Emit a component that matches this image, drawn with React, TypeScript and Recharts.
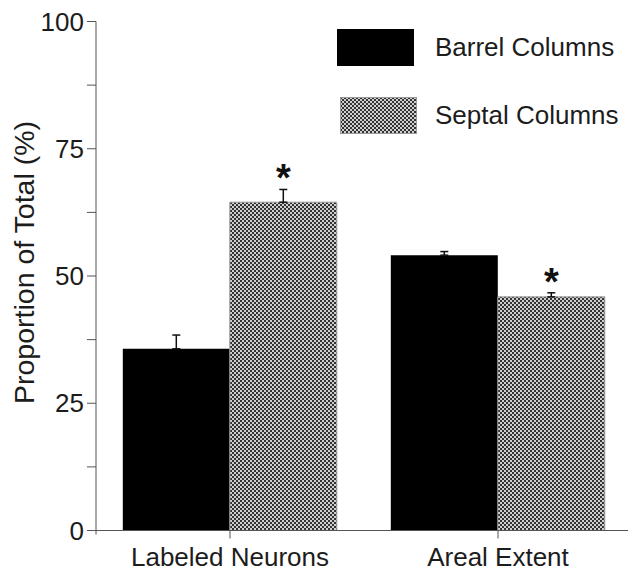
import {
  Bar,
  BarChart,
  ErrorBar,
  LabelList,
  Legend,
  ReferenceLine,
  XAxis,
  YAxis,
} from "recharts";

const categories = ["Labeled Neurons", "Areal Extent"];
const barrelValues = [35.7, 54.1];
const barrelErrors = [2.7, 0.7];
const septalValues = [64.5, 45.9];
const septalErrors = [2.5, 0.8];
const septalMarks = ["*", "*"];
const yTicks = [0, 12.5, 25, 37.5, 50, 62.5, 75, 87.5, 100];

const data = categories.map((name, i) => ({
  name,
  barrel: barrelValues[i],
  barrelErr: [0, barrelErrors[i]],
  septal: septalValues[i],
  septalErr: [0, septalErrors[i]],
  mark: septalMarks[i],
}));

const FONT = "'Liberation Sans', Arial, sans-serif";
const TEXT = "#1c1c1c";
const AXIS = "#555";

function StarLabel(props: any) {
  const { x, y, width, height, value, index } = props;
  if (!value) return null;
  const perUnit = height / septalValues[index];
  const errTop = y - septalErrors[index] * perUnit;
  return (
    <text
      x={x + width / 2}
      y={errTop + 2}
      textAnchor="middle"
      fontSize={38}
      fontWeight="bold"
      fontFamily={FONT}
      fill="#111"
    >
      {value}
    </text>
  );
}

function LegendBox({ payload }: any) {
  return (
    <div style={{ fontFamily: FONT, fontSize: 26, color: TEXT }}>
      {(payload || []).map((entry: any, i: number) => (
        <div
          key={entry.value}
          style={{
            display: "flex",
            alignItems: "center",
            height: 37,
            marginBottom: i === 0 ? 31 : 0,
            marginLeft: i === 0 ? 0 : 3,
          }}
        >
          <svg width={77} height={37} style={{ marginRight: i === 0 ? 21 : 18 }}>
            <rect
              x={0.5}
              y={0.5}
              width={76}
              height={36}
              fill={entry.payload.fill}
              stroke={i === 0 ? "#000" : "#999"}
            />
          </svg>
          <span>{entry.value}</span>
        </div>
      ))}
    </div>
  );
}

function YLabel(props: any) {
  const vb = props.viewBox || {};
  const cx = 24;
  const cy = vb.y + vb.height / 2 - 13.5;
  return (
    <text
      x={cx}
      y={cy}
      transform={`rotate(-90 ${cx} ${cy})`}
      textAnchor="middle"
      dominantBaseline="central"
      fontSize={28.5}
      fontFamily={FONT}
      fill={TEXT}
    >
      Proportion of Total (%)
    </text>
  );
}

export default function App() {
  return (
    <div
      style={{
        position: "absolute",
        left: 0,
        top: 0,
        width: 628,
        height: 572,
        overflow: "hidden",
        background: "#fff",
      }}
    >
      <BarChart
        width={632}
        height={572}
        data={data}
        margin={{ top: 21.5, right: 0, left: 0, bottom: 0 }}
        barCategoryGap="10%"
        barGap={0}
      >
        <defs>
          <pattern id="checker" width="4" height="4" patternUnits="userSpaceOnUse">
            <rect width="4" height="4" fill="#cfcfcf" />
            <rect width="2" height="2" fill="#333" />
            <rect x="2" y="2" width="2" height="2" fill="#333" />
          </pattern>
        </defs>
        <XAxis
          dataKey="name"
          height={41.5}
          stroke={AXIS}
          tickSize={8}
          tickMargin={9}
          tick={{ fill: TEXT, fontSize: 26, fontFamily: FONT }}
        />
        <XAxis xAxisId="pos" type="number" domain={[0, 2]} hide />
        <YAxis
          width={96}
          domain={[0, 100]}
          ticks={yTicks}
          interval={0}
          stroke={AXIS}
          tickSize={9}
          tickMargin={3}
          tickFormatter={(v: number) => (v % 25 === 0 ? String(v) : "")}
          tick={{ fill: TEXT, fontSize: 26, fontFamily: FONT }}
          label={<YLabel />}
        />
        <ReferenceLine
          xAxisId="pos"
          segment={[
            { x: 1, y: 0 },
            { x: 1, y: -0.8 },
          ]}
          stroke={AXIS}
          ifOverflow="visible"
        />
        <ReferenceLine
          xAxisId="pos"
          segment={[
            { x: 0, y: 0 },
            { x: 0, y: -0.8 },
          ]}
          stroke={AXIS}
          ifOverflow="visible"
        />
        <Legend
          layout="vertical"
          align="center"
          verticalAlign="middle"
          wrapperStyle={{ top: 29, left: 337, width: 290 }}
          content={<LegendBox />}
        />
        <Bar
          dataKey="barrel"
          name="Barrel Columns"
          fill="#000"
          isAnimationActive={false}
        >
          <ErrorBar dataKey="barrelErr" direction="y" width={4} stroke="#111" strokeWidth={1.5} />
        </Bar>
        <Bar
          dataKey="septal"
          name="Septal Columns"
          fill="url(#checker)"
          stroke="#999"
          strokeWidth={1}
          isAnimationActive={false}
        >
          <ErrorBar dataKey="septalErr" direction="y" width={4} stroke="#111" strokeWidth={1.5} />
          <LabelList dataKey="mark" content={<StarLabel />} />
        </Bar>
      </BarChart>
    </div>
  );
}
